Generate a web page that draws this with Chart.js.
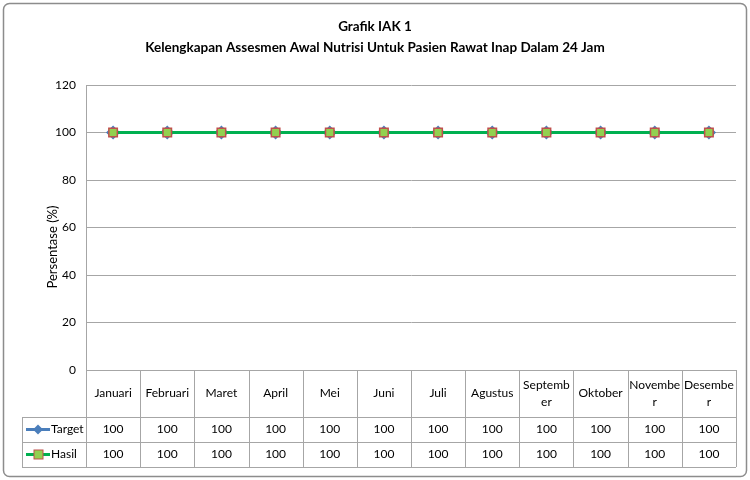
<!DOCTYPE html>
<html>
<head>
<meta charset="utf-8">
<script src="https://cdn.jsdelivr.net/npm/chart.js@4.4.1/dist/chart.umd.min.js"></script>
<style>
  html, body { margin: 0; padding: 0; background: #fff; }
  #wrap { width: 750px; height: 480px; }
</style>
</head>
<body>
<div id="wrap"><canvas id="chart" width="750" height="480"></canvas></div>
<script>
const titleLines = ['Grafik IAK 1', 'Kelengkapan Assesmen Awal Nutrisi Untuk Pasien Rawat Inap Dalam 24 Jam'];
const months = ['Januari', 'Februari', 'Maret', 'April', 'Mei', 'Juni', 'Juli', 'Agustus',
  ['Septemb', 'er'], 'Oktober', ['Novembe', 'r'], ['Desembe', 'r']];
const target = [100, 100, 100, 100, 100, 100, 100, 100, 100, 100, 100, 100];
const hasil = [100, 100, 100, 100, 100, 100, 100, 100, 100, 100, 100, 100];
const yTitle = 'Persentase (%)';

const FONT = 'Lato, "Liberation Sans Narrow", sans-serif';

// draws the frame, title, y title and the data table under the plot
const excelTable = {
  id: 'excelTable',
  beforeDraw(chart) {
    const ctx = chart.ctx;
    ctx.save();
    ctx.fillStyle = '#fff';
    ctx.fillRect(0, 0, chart.width, chart.height);
    ctx.strokeStyle = '#8c8c8c';
    ctx.lineWidth = 1.5;
    ctx.beginPath();
    ctx.roundRect(3.5, 3.5, chart.width - 7, chart.height - 7, 6);
    ctx.stroke();
    ctx.restore();
  },
  afterDraw(chart) {
    const ctx = chart.ctx;
    const area = chart.chartArea;
    const x = chart.scales.x;
    const half = (x.getPixelForValue(1) - x.getPixelForValue(0)) / 2;

    ctx.save();
    // title
    ctx.fillStyle = '#000';
    ctx.textAlign = 'center';
    ctx.textBaseline = 'middle';
    ctx.font = 'bold 13.5px ' + FONT;
    ctx.fillText(titleLines[0], chart.width / 2, 27);
    ctx.fillText(titleLines[1], chart.width / 2, 48);

    // y axis title
    ctx.save();
    ctx.translate(53, 247);
    ctx.rotate(-Math.PI / 2);
    ctx.font = '13px ' + FONT;
    ctx.fillText(yTitle, 0, 0);
    ctx.restore();

    // table geometry
    const top = area.bottom;
    const rowCat = top + 47;
    const rowT = rowCat + 25;
    const rowH = rowT + 25;
    const legLeft = 22;
    const right = x.getPixelForValue(months.length - 1) + half;

    ctx.strokeStyle = '#a6a6a6';
    ctx.lineWidth = 1;
    ctx.beginPath();
    for (let i = 0; i <= months.length; i++) {
      const px = Math.round(x.getPixelForValue(i) - half) + 0.5;
      ctx.moveTo(px, top);
      ctx.lineTo(px, rowH);
    }
    [rowCat, rowT, rowH].forEach(py => {
      ctx.moveTo(legLeft, Math.round(py) + 0.5);
      ctx.lineTo(right, Math.round(py) + 0.5);
    });
    ctx.moveTo(legLeft + 0.5, rowCat);
    ctx.lineTo(legLeft + 0.5, rowH);
    ctx.stroke();

    ctx.font = '12px ' + FONT;
    ctx.fillStyle = '#000';
    months.forEach((m, i) => {
      const cx = x.getPixelForValue(i);
      const lines = Array.isArray(m) ? m : [m];
      const mid = (top + rowCat) / 2;
      lines.forEach((l, k) => {
        ctx.fillText(l, cx, mid + (k - (lines.length - 1) / 2) * 17);
      });
      ctx.fillText(String(target[i]), cx, (rowCat + rowT) / 2);
      ctx.fillText(String(hasil[i]), cx, (rowT + rowH) / 2);
    });

    // legend keys
    const keys = [
      { y: (rowCat + rowT) / 2, ds: chart.data.datasets[0] },
      { y: (rowT + rowH) / 2, ds: chart.data.datasets[1] }
    ];
    keys.forEach(k => {
      ctx.strokeStyle = k.ds.borderColor;
      ctx.lineWidth = 3;
      ctx.beginPath();
      ctx.moveTo(26, k.y);
      ctx.lineTo(50, k.y);
      ctx.stroke();
      if (k.ds.pointStyle === 'rectRot') {
        ctx.fillStyle = k.ds.pointBackgroundColor;
        ctx.beginPath();
        ctx.moveTo(38, k.y - 5);
        ctx.lineTo(43, k.y);
        ctx.lineTo(38, k.y + 5);
        ctx.lineTo(33, k.y);
        ctx.closePath();
        ctx.fill();
      } else {
        ctx.fillStyle = k.ds.pointBackgroundColor;
        ctx.strokeStyle = k.ds.pointBorderColor;
        ctx.lineWidth = 1;
        ctx.fillRect(34, k.y - 4.5, 9, 9);
        ctx.strokeRect(34, k.y - 4.5, 9, 9);
      }
      ctx.fillStyle = '#000';
      ctx.textAlign = 'left';
      ctx.fillText(k.ds.label, 51, k.y);
      ctx.textAlign = 'center';
    });
    ctx.restore();
  }
};

new Chart(document.getElementById('chart'), {
  type: 'line',
  data: {
    labels: months,
    datasets: [
      {
        label: 'Target',
        data: target,
        borderColor: '#4a7ebb',
        backgroundColor: '#4a7ebb',
        pointBackgroundColor: '#4a7ebb',
        pointBorderColor: '#4a7ebb',
        pointStyle: 'rectRot',
        pointRadius: 5,
        borderWidth: 3,
        order: 2
      },
      {
        label: 'Hasil',
        data: hasil,
        borderColor: '#00b050',
        backgroundColor: '#92d050',
        pointBackgroundColor: '#92d050',
        pointBorderColor: '#c0504d',
        pointBorderWidth: 1.5,
        pointStyle: 'rect',
        pointRadius: 6,
        borderWidth: 3,
        order: 1
      }
    ]
  },
  options: {
    responsive: false,
    animation: false,
    events: [],
    layout: { padding: { top: 85, bottom: 110, left: 0, right: 14 } },
    plugins: {
      legend: { display: false },
      title: { display: false },
      tooltip: { enabled: false }
    },
    scales: {
      x: {
        type: 'category',
        display: false,
        offset: true
      },
      y: {
        min: 0,
        max: 120,
        ticks: {
          stepSize: 20,
          padding: 10,
          color: '#000',
          font: { family: FONT, size: 12 }
        },
        grid: { color: '#a6a6a6', drawTicks: false },
        border: { color: '#a6a6a6' },
        afterFit(scale) { scale.width = 86; }
      }
    }
  },
  plugins: [excelTable]
});
</script>
</body>
</html>
